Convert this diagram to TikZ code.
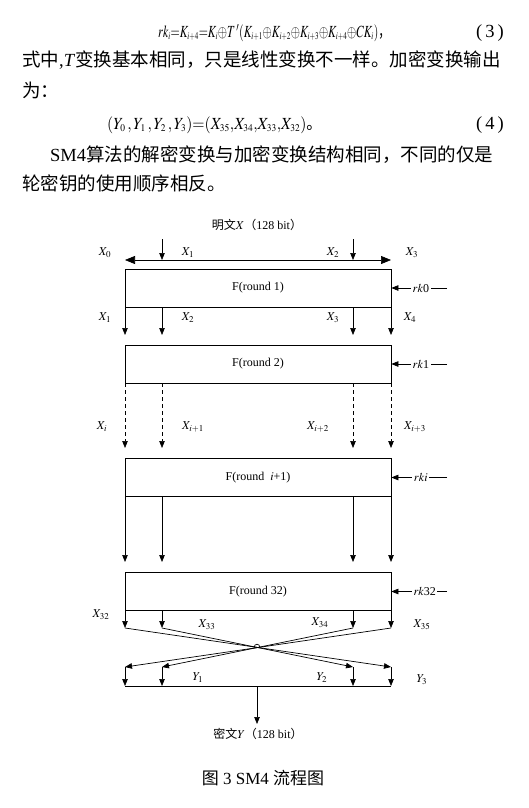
\documentclass[tikz,border=0pt]{standalone}
\usepackage{graphicx}
\usepackage{mathptmx}
\usepackage[no-math]{fontspec}
\setmainfont{Liberation Serif}
\newfontfamily\cjk{Noto Sans CJK SC}
\usetikzlibrary{arrows.meta}
\newcommand{\sss}[1]{_{\scriptscriptstyle #1}}
\tikzset{
 ln/.style={line width=0.7pt},
 arr/.style={ln,-{Triangle[width=5.5pt,length=7pt]}},
 darr/.style={arr,dash pattern=on 4pt off 3pt},
 bigarr/.style={ln,{Triangle[width=8pt,length=10pt]}-{Triangle[width=8pt,length=10pt]}},
 fbox/.style={draw,ln,minimum width=266pt,minimum height=38pt,inner sep=0pt,font=\fontsize{12}{14}\selectfont},
 lbl/.style={font=\fontsize{12}{14}\selectfont,inner sep=0pt},
 rklbl/.style={lbl,fill=white,inner sep=1.5pt},
 body/.style={font=\fontsize{18.5}{22}\selectfont,inner sep=0pt,anchor=west},
 eqn/.style={font=\fontsize{17}{20}\selectfont,inner sep=0pt,anchor=west},
}
\begin{document}
\begin{tikzpicture}[x=1pt,y=-1pt]
\useasboundingbox[fill=white] (0,0) rectangle (529,808);
% body text
\node[eqn] (eq3) at (158,33) {\resizebox{232pt}{\height}{$rk\sss{i}{=}K\sss{i+4}{=}K\sss{i}{\oplus}T\,'(K\sss{i+1}{\oplus}K\sss{i+2}{\oplus}K\sss{i+3}{\oplus}K\sss{i+4}{\oplus}CK\sss{i})${\cjk ，}}};
\node[body,anchor=east] (n3) at (504,33) {(\,3\,)};
\node[body] (l2) at (22,60) {{\cjk 式中},\textit{T}{\cjk 变换基本相同，只是线性变换不一样。加密变换输出}};
\node[body] (l3) at (22,90) {{\cjk 为：}};
\node[eqn] (eq4) at (107,125) {\resizebox{215pt}{\height}{$(Y\sss{0}\,, Y\sss{1}\,, Y\sss{2}\,, Y\sss{3}){=}(X\sss{35}{,}X\sss{34}{,}X\sss{33}{,}X\sss{32})${\cjk 。}}};
\node[body,anchor=east] (n4) at (504,125) {(\,4\,)};
\node[body] (l5) at (50,155) {SM4{\cjk 算法的解密变换与加密变换结构相同，不同的仅是}};
\node[body] (l6) at (22,183) {{\cjk 轮密钥的使用顺序相反。}};
% diagram top
\node[lbl] (title) at (257,225) {{\cjk 明文}$X${\cjk （}128 bit{\cjk ）}};
\coordinate (hl) at (125,260);
\coordinate (hr) at (391,260);
\draw[bigarr] (hl) -- (hr);
\coordinate (s1) at (162,239);
\coordinate (s2) at (353,239);
\draw[arr] (s1) -- (s1 |- hl);
\draw[arr] (s2) -- (s2 |- hl);
\node[lbl] (x0) at (105,253) {$X_0$};
\node[lbl] (x1) at (188,253) {$X_1$};
\node[lbl] (x2) at (333,253) {$X_2$};
\node[lbl] (x3) at (412,253) {$X_3$};
% boxes
\node[fbox] (b1) at (258,288) {F(round 1)};
\node[fbox] (b2) at (258,364) {F(round 2)};
\node[fbox] (b3) at (258,477.5) {F(round\ \ $i$+1)};
\node[fbox] (b4) at (258,591.5) {F(round 32)};
% round keys
\coordinate (r1) at (447,288);
\coordinate (r2) at (447,364);
\coordinate (r3) at (447,477.5);
\coordinate (r4) at (447,591.5);
\draw[arr] (r1) -- (b1.east) node[rklbl,pos=0.47] (k1) {$rk$0};
\draw[arr] (r2) -- (b2.east) node[rklbl,pos=0.47] (k2) {$rk$1};
\draw[arr] (r3) -- (b3.east) node[rklbl,pos=0.47] (k3) {$rki$};
\draw[arr] (r4) -- (b4.east) node[rklbl,pos=0.40] (k4) {$rk$32};
% inter-round arrows
\foreach \x/\n in {125/a,162/b,353/c,391/d}{
  \coordinate (p1\n) at (\x,335);
  \coordinate (p2\n) at (\x,448);
  \coordinate (p3\n) at (\x,562);
  \coordinate (p4\n) at (\x,628);
  \coordinate (q\n) at (\x,667);
  \draw[arr] (b1.south -| p1\n) -- (p1\n);
  \draw[darr] (b2.south -| p2\n) -- (p2\n);
  \draw[arr] (b3.south -| p3\n) -- (p3\n);
  \draw[arr] (b4.south -| p4\n) -- (p4\n);
}
\node[lbl] (y1l) at (105,318) {$X_1$};
\node[lbl] (y2l) at (188,318) {$X_2$};
\node[lbl] (y3l) at (333,318) {$X_3$};
\node[lbl] (y4l) at (410,318) {$X_4$};
\node[lbl] (xi0) at (102,427) {$X_i$};
\node[lbl] (xi1) at (193,427) {$X_{i+1}$};
\node[lbl] (xi2) at (318,427) {$X_{i+2}$};
\node[lbl] (xi3) at (415,427) {$X_{i+3}$};
\node[lbl] (x32) at (101,615) {$X_{32}$};
\node[lbl] (x33) at (207,625) {$X_{33}$};
\node[lbl] (x34) at (320,623) {$X_{34}$};
\node[lbl] (x35) at (422,625) {$X_{35}$};
% crossing
\draw[arr] (p4a) -- (qd);
\draw[arr] (p4b) -- (qc);
\draw[arr] (p4c) -- (qb);
\draw[arr] (p4d) -- (qa);
\draw[ln] (254,647.8) .. controls (254,643) and (260,643) .. (260,647.8);
% output
\coordinate (ya) at (125,686);
\coordinate (yd) at (391,686);
\coordinate (ybar) at (257,686);
\coordinate (out) at (257,724);
\foreach \n in {a,b,c,d}{\draw[arr] (q\n) -- (q\n |- ya);}
\draw[ln] (ya) -- (yd);
\draw[arr] (ybar) -- (out);
\node[lbl] (yy1) at (198,678) {$Y_1$};
\node[lbl] (yy2) at (322,678) {$Y_2$};
\node[lbl] (yy3) at (422,680) {$Y_3$};
\node[lbl] (ct) at (258,734) {{\cjk 密文}$Y${\cjk （}128 bit{\cjk ）}};
\node[font=\fontsize{17}{20}\selectfont,inner sep=0pt] (cap) at (263,778) {{\cjk 图} 3 SM4 {\cjk 流程图}};
\end{tikzpicture}
\end{document}
